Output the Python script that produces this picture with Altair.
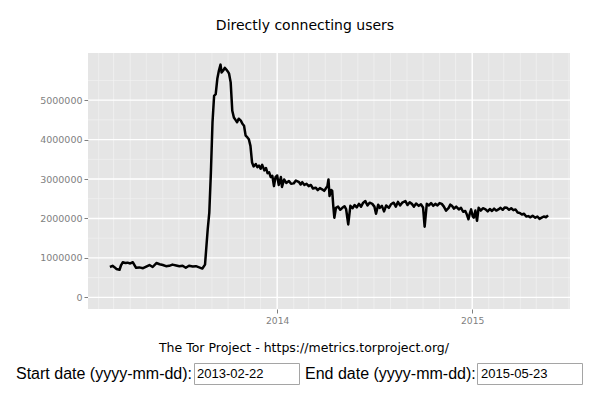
import altair as alt
import pandas as pd

dates = [
    "2013-02-22", "2013-02-27", "2013-03-03", "2013-03-06", "2013-03-12", "2013-03-15",
    "2013-03-18", "2013-03-23", "2013-03-27", "2013-04-01", "2013-04-06", "2013-04-12",
    "2013-04-18", "2013-04-25", "2013-05-01", "2013-05-07", "2013-05-13", "2013-05-20",
    "2013-05-26", "2013-06-01", "2013-06-07", "2013-06-13", "2013-06-19", "2013-06-26",
    "2013-07-02", "2013-07-08", "2013-07-14", "2013-07-20", "2013-07-27", "2013-08-02",
    "2013-08-08", "2013-08-14", "2013-08-19", "2013-08-24", "2013-08-27", "2013-08-30",
    "2013-09-02", "2013-09-05", "2013-09-08", "2013-09-11", "2013-09-14", "2013-09-17",
    "2013-09-19", "2013-09-22", "2013-09-25", "2013-09-27", "2013-10-01", "2013-10-03",
    "2013-10-06", "2013-10-09", "2013-10-12", "2013-10-15", "2013-10-18", "2013-10-21",
    "2013-10-25", "2013-10-28", "2013-10-31", "2013-11-03", "2013-11-06", "2013-11-09",
    "2013-11-12", "2013-11-15", "2013-11-18", "2013-11-22", "2013-11-25", "2013-11-28",
    "2013-12-01", "2013-12-04", "2013-12-08", "2013-12-11", "2013-12-14", "2013-12-17",
    "2013-12-20", "2013-12-23", "2013-12-26", "2013-12-29", "2014-01-01", "2014-01-04",
    "2014-01-08", "2014-01-10", "2014-01-14", "2014-01-18", "2014-01-23", "2014-01-27",
    "2014-02-01", "2014-02-05", "2014-02-11", "2014-02-14", "2014-02-17", "2014-02-21",
    "2014-02-25", "2014-03-01", "2014-03-05", "2014-03-09", "2014-03-14", "2014-03-18",
    "2014-03-22", "2014-03-26", "2014-03-30", "2014-04-02", "2014-04-05", "2014-04-07",
    "2014-04-09", "2014-04-12", "2014-04-14", "2014-04-16", "2014-04-18", "2014-04-21",
    "2014-04-25", "2014-04-29", "2014-05-03", "2014-05-07", "2014-05-10", "2014-05-14",
    "2014-05-18", "2014-05-22", "2014-05-26", "2014-05-30", "2014-06-03", "2014-06-07",
    "2014-06-11", "2014-06-15", "2014-06-19", "2014-06-23", "2014-06-28", "2014-07-02",
    "2014-07-05", "2014-07-09", "2014-07-12", "2014-07-16", "2014-07-20", "2014-07-24",
    "2014-07-29", "2014-08-02", "2014-08-07", "2014-08-11", "2014-08-15", "2014-08-19",
    "2014-08-23", "2014-08-29", "2014-09-02", "2014-09-06", "2014-09-10", "2014-09-14",
    "2014-09-18", "2014-09-23", "2014-09-27", "2014-10-01", "2014-10-04", "2014-10-08",
    "2014-10-12", "2014-10-16", "2014-10-20", "2014-10-24", "2014-10-28", "2014-11-01",
    "2014-11-05", "2014-11-09", "2014-11-13", "2014-11-18", "2014-11-21", "2014-11-24",
    "2014-11-28", "2014-12-02", "2014-12-07", "2014-12-11", "2014-12-15", "2014-12-19",
    "2014-12-22", "2014-12-25", "2014-12-28", "2014-12-30", "2015-01-02", "2015-01-04",
    "2015-01-07", "2015-01-10", "2015-01-13", "2015-01-17", "2015-01-21", "2015-01-26",
    "2015-01-30", "2015-02-03", "2015-02-07", "2015-02-11", "2015-02-15", "2015-02-19",
    "2015-02-23", "2015-02-27", "2015-03-03", "2015-03-07", "2015-03-11", "2015-03-15",
    "2015-03-19", "2015-03-23", "2015-03-27", "2015-03-31", "2015-04-04", "2015-04-08",
    "2015-04-12", "2015-04-16", "2015-04-20", "2015-04-24", "2015-04-29", "2015-05-03",
    "2015-05-07", "2015-05-11", "2015-05-15", "2015-05-19", "2015-05-23",
]
users = [
    770000, 800000, 760000, 720000, 700000, 820000,
    890000, 870000, 880000, 860000, 890000, 750000,
    760000, 740000, 780000, 820000, 770000, 870000,
    840000, 820000, 790000, 800000, 830000, 810000,
    790000, 800000, 750000, 800000, 780000, 790000,
    760000, 730000, 830000, 1720000, 2150000, 3170000,
    4440000, 5110000, 5150000, 5540000, 5750000, 5900000,
    5700000, 5750000, 5820000, 5790000, 5720000, 5670000,
    5450000, 4730000, 4560000, 4500000, 4440000, 4530000,
    4480000, 4400000, 4350000, 4100000, 4060000, 4010000,
    3840000, 3420000, 3320000, 3380000, 3300000, 3340000,
    3260000, 3360000, 3220000, 3280000, 3150000, 3170000,
    3050000, 3080000, 2820000, 3050000, 3090000, 2850000,
    3050000, 2800000, 2990000, 2900000, 2950000, 2880000,
    2890000, 2960000, 2920000, 2860000, 2920000, 2850000,
    2880000, 2820000, 2850000, 2760000, 2780000, 2720000,
    2770000, 2740000, 2700000, 2760000, 2820000, 2990000,
    2570000, 2720000, 2700000, 2320000, 2020000, 2270000,
    2300000, 2220000, 2270000, 2310000, 2240000, 1850000,
    2320000, 2260000, 2340000, 2280000, 2370000, 2300000,
    2400000, 2440000, 2330000, 2400000, 2370000, 2300000,
    2120000, 2350000, 2270000, 2320000, 2180000, 2330000,
    2270000, 2360000, 2400000, 2300000, 2420000, 2330000,
    2400000, 2440000, 2340000, 2410000, 2370000, 2300000,
    2380000, 2320000, 2360000, 2280000, 1790000, 2370000,
    2330000, 2390000, 2320000, 2370000, 2330000, 2390000,
    2370000, 2300000, 2200000, 2270000, 2350000, 2320000,
    2250000, 2300000, 2230000, 2270000, 2170000, 2190000,
    2100000, 1980000, 2150000, 2230000, 2050000, 2020000,
    2200000, 1940000, 2270000, 2200000, 2260000, 2230000,
    2180000, 2240000, 2190000, 2250000, 2200000, 2230000,
    2270000, 2220000, 2280000, 2270000, 2220000, 2260000,
    2210000, 2230000, 2150000, 2140000, 2100000, 2120000,
    2050000, 2060000, 2030000, 2070000, 2020000, 2050000,
    1990000, 2020000, 2050000, 2030000, 2080000,
]

y_major = [0, 1000000, 2000000, 3000000, 4000000, 5000000]
y_minor = [500000, 1500000, 2500000, 3500000, 4500000, 5500000]
x_major = ["2014-01-01", "2015-01-01"]
x_minor = [
    "2013-02-01", "2013-03-01", "2013-04-01", "2013-05-01", "2013-06-01", "2013-07-01",
    "2013-08-01", "2013-09-01", "2013-10-01", "2013-11-01", "2013-12-01",
    "2014-02-01", "2014-03-01", "2014-04-01", "2014-05-01", "2014-06-01", "2014-07-01",
    "2014-08-01", "2014-09-01", "2014-10-01", "2014-11-01", "2014-12-01",
    "2015-02-01", "2015-03-01", "2015-04-01", "2015-05-01", "2015-06-01", "2015-07-01",
]

title_text = "Directly connecting users"
caption_text = "The Tor Project - https://metrics.torproject.org/"
start_label = "Start date (yyyy-mm-dd):"
end_label = "End date (yyyy-mm-dd):"
start_value = "2013-02-22"
end_value = "2015-05-23"

df = pd.DataFrame({"date": dates, "users": users})

xscale = alt.Scale(domain=["2013-01-12", "2015-07-03"], nice=False)
yscale = alt.Scale(domain=[-295000, 6195000], nice=False, zero=False)

GREY = "#7F7F7F"
SANS = "DejaVu Sans"

xaxis = alt.Axis(
    values=[alt.DateTime(year=2014, month=1, date=1),
            alt.DateTime(year=2015, month=1, date=1)],
    format="%Y", grid=False, domain=False, tickColor=GREY, tickSize=4,
    labelColor=GREY, labelFont=SANS, labelFontSize=9.2, labelPadding=3, title=None,
)
yaxis = alt.Axis(
    values=y_major, format="d", grid=False, domain=False, tickColor=GREY,
    tickSize=4, labelColor=GREY, labelFont=SANS, labelFontSize=9.5,
    labelPadding=2, title=None,
)

minor_h = alt.Chart(pd.DataFrame({"v": y_minor})).mark_rule(
    color="#F2F2F2", strokeWidth=0.7
).encode(y=alt.Y("v:Q", scale=yscale, axis=yaxis))

minor_v = alt.Chart(pd.DataFrame({"d": x_minor})).mark_rule(
    color="#F2F2F2", strokeWidth=0.7, clip=True
).encode(x=alt.X("d:T", scale=xscale, axis=xaxis))

major_h = alt.Chart(pd.DataFrame({"v": y_major})).mark_rule(
    color="white", strokeWidth=1.4
).encode(y=alt.Y("v:Q", scale=yscale, axis=yaxis))

major_v = alt.Chart(pd.DataFrame({"d": x_major})).mark_rule(
    color="white", strokeWidth=1.4
).encode(x=alt.X("d:T", scale=xscale, axis=xaxis))

line = alt.Chart(df).mark_line(color="black", strokeWidth=2.5, strokeJoin="round").encode(
    x=alt.X("date:T", scale=xscale, axis=xaxis),
    y=alt.Y("users:Q", scale=yscale, axis=yaxis),
)


def label(text, x, y, size, font, color="black", align="center"):
    return alt.Chart(pd.DataFrame({"t": [text]})).mark_text(
        font=font, fontSize=size, color=color, align=align, baseline="middle"
    ).encode(text="t:N", x=alt.value(x), y=alt.value(y))


def box(x1, x2):
    return alt.Chart(pd.DataFrame({"t": [0]})).mark_rect(
        fill="white", stroke="#A5A5A5", strokeWidth=1
    ).encode(x=alt.value(x1), x2=alt.value(x2), y=alt.value(310.5), y2=alt.value(331.5))


title = label(title_text, 217, -27, 14, SANS)
caption = label(caption_text, 216, 295, 12.5, SANS)
start_l = label(start_label, -72, 321, 16, "Liberation Sans", align="left")
end_l = label(end_label, 217, 321, 16, "Liberation Sans", align="left")
box1 = box(106.5, 211.5)
box2 = box(389.5, 494.5)
start_v = label(start_value, 109, 321, 13, "Liberation Sans", align="left")
end_v = label(end_value, 393, 321, 13, "Liberation Sans", align="left")

chart = alt.layer(
    minor_h, minor_v, major_h, major_v, line,
    title, caption, start_l, end_l, box1, box2, start_v, end_v,
).properties(
    width=482, height=256,
    autosize=alt.AutoSizeParams(type="none"),
    padding={"left": 80, "top": 45, "right": 13, "bottom": 76},
).configure_view(fill="#E5E5E5", stroke=None)

chart.save("out.html", embed_options={"renderer": "svg", "actions": False})
